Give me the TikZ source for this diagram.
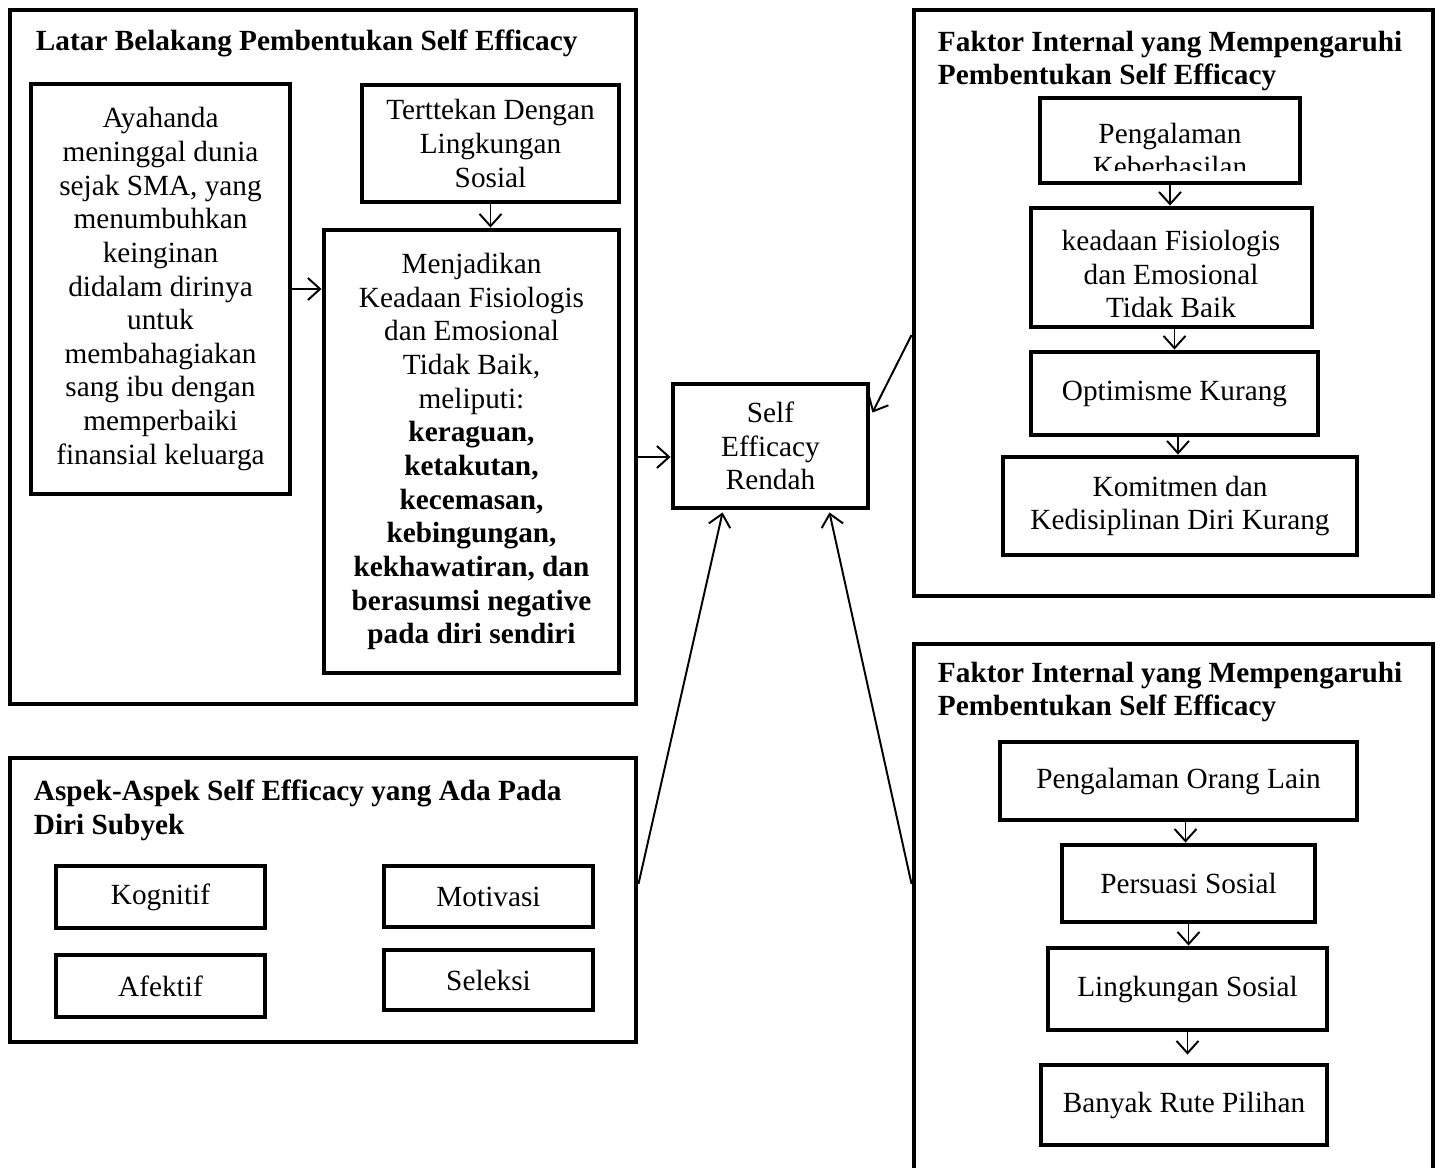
\documentclass[tikz,border=0pt]{standalone}
\usepackage{fontspec}
\setmainfont{Liberation Serif}
\usetikzlibrary{positioning,calc,fit,arrows.meta}

\begin{document}
\begin{tikzpicture}[x=0.41pt,y=-0.41pt,thick,
		every node/.style={font=\fontsize{12}{13.8}\selectfont},
		panel/.style={draw,line width=2pt,inner sep=0pt},
		block/.style 2 args={draw,line width=2pt,inner sep=0pt,align=center,
			minimum width=#1*0.41pt,minimum height=#2*0.41pt},
		heading/.style={anchor=north west,inner sep=0pt,align=left,font=\fontsize{12}{13.8}\selectfont\bfseries},
		link/.style={line width=0.8pt,-{Straight Barb[length=5pt,width=9pt]}},
		]
		\useasboundingbox (0,0) rectangle (1440,1167);

		% latar belakang
		\node[panel,fit={(10,10) (636,704)}] (latar) {};
		\node[heading] (latarT) at (35,29) {Latar Belakang Pembentukan Self Efficacy};
		\node[block={259}{410}] (ayah) at (160.5,289) {Ayahanda\\meninggal dunia\\sejak SMA, yang\\menumbuhkan\\keinginan\\didalam dirinya\\untuk\\membahagiakan\\sang ibu dengan\\memperbaiki\\finansial keluarga};
		\node[block={257}{117}] (tekan) at (490.5,143.5) {Terttekan Dengan\\Lingkungan\\Sosial};
		\node[block={295}{443}] (jadi) at (471.5,451.5) {Menjadikan\\Keadaan Fisiologis\\dan Emosional\\Tidak Baik,\\meliputi:\\\textbf{keraguan,}\\\textbf{ketakutan,}\\\textbf{kecemasan,}\\\textbf{kebingungan,}\\\textbf{kekhawatiran, dan}\\\textbf{berasumsi negative}\\\textbf{pada diri sendiri}};
		\draw[link] (ayah.east) -- (ayah.east -| jadi.west);
		\draw[link] (tekan.south) -- (tekan.south |- jadi.north);

		% self efficacy
		\node[block={195}{124}] (se) at (770.5,446) {Self\\Efficacy\\Rendah};
		\coordinate (seIn) at ($(se.west)+(0,11)$);
		\draw[link] (seIn -| latar.east) -- (seIn);

		% faktor internal (atas)
		\node[panel,fit={(914,10) (1433,596)}] (faktorA) {};
		\node[heading] (faktorAT) at (937,30) {Faktor Internal yang Mempengaruhi\\Pembentukan Self Efficacy};
		\begin{scope}
			\clip (1040,98) rectangle (1300,170);
			\node[align=center,inner sep=0pt] (pkT) at (1170,150) {Pengalaman\\Keberhasilan};
		\end{scope}
		\node[block={260}{85}] (pk) at (1170,140.5) {};
		\begin{scope}
			\clip (1031,208) rectangle (1312,316);
			\node[align=center,inner sep=0pt] (kfT) at (1171,274) {keadaan Fisiologis\\dan Emosional\\Tidak Baik};
		\end{scope}
		\node[block={281}{119}] (kf) at (1171.5,267.5) {};
		\node[block={287}{83}] (ok) at (1174.5,393.5) {Optimisme Kurang};
		\node[block={354}{98}] (kd) at (1180,506) {Komitmen dan\\Kedisiplinan Diri Kurang};
		\draw[link] (pk.south) -- (pk.south |- kf.north);
		\draw[link] (ok.north |- kf.south) -- (ok.north);
		\draw[link] ($(kd.north |- ok.south)+(-2,0)$) -- ($(kd.north)+(-2,0)$);
		\draw[link] ($(faktorA.west)+(0,32)$) -- ($(se.north east)+(2,31)$);

		% faktor internal (bawah)
		\node[panel,fit={(914,644) (1433,1200)}] (faktorB) {};
		\node[heading] (faktorBT) at (937,661) {Faktor Internal yang Mempengaruhi\\Pembentukan Self Efficacy};
		\node[block={357}{78}] (pol) at (1178.5,781) {Pengalaman Orang Lain};
		\node[block={253}{77}] (ps) at (1188.5,883.5) {Persuasi Sosial};
		\node[block={279}{82}] (ls) at (1187.5,989) {Lingkungan Sosial};
		\node[block={286}{80}] (brp) at (1184,1105) {Banyak Rute Pilihan};
		\draw[link] ($(ps.north |- pol.south)+(-3,0)$) -- ($(ps.north)+(-3,0)$);
		\draw[link] (ps.south) -- (ps.south |- ls.north);
		\draw[link] (ls.south) -- ($(ls.south |- brp.north)+(0,-8)$);
		\draw[link] ($(faktorB.west)+(0,-38)$) -- ($(se.south east)+(-41,2)$);

		% aspek-aspek
		\node[panel,fit={(10,758) (636,1042)}] (aspek) {};
		\node[heading] (aspekT) at (33,779) {Aspek-Aspek Self Efficacy yang Ada Pada\\Diri Subyek};
		\node[block={209}{62}] (kog) at (160.5,897) {Kognitif};
		\node[block={209}{61}] (mot) at (488.5,896.5) {Motivasi};
		\node[block={209}{62}] (afe) at (160.5,986) {Afektif};
		\node[block={209}{60}] (sel) at (488.5,980) {Seleksi};
		\draw[link] ($(aspek.east)+(0,-16)$) -- ($(se.south west)+(52,2)$);

	\end{tikzpicture}
\end{document}
